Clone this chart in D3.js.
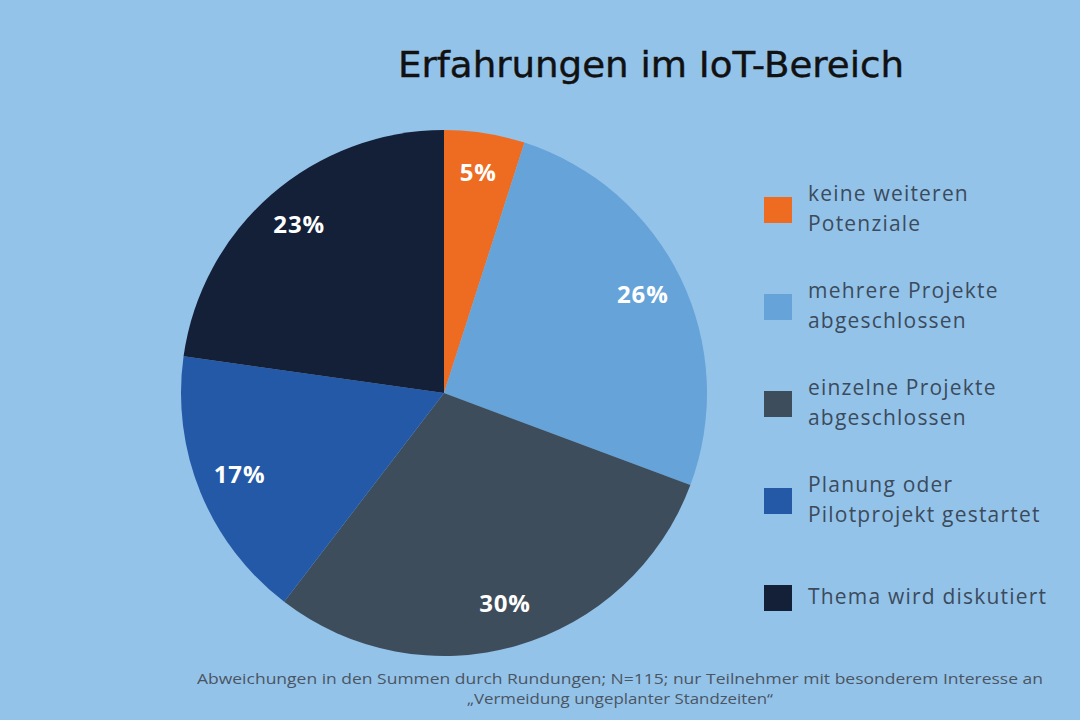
<!DOCTYPE html>
<html>
<head>
<meta charset="utf-8">
<script src="https://cdn.jsdelivr.net/npm/d3@7"></script>
<style>
  html, body { margin: 0; padding: 0; background: #94c3ea; }
</style>
</head>
<body>
<div id="chart"></div>
<script>
const categories = [
  "keine weiteren Potenziale",
  "mehrere Projekte abgeschlossen",
  "einzelne Projekte abgeschlossen",
  "Planung oder Pilotprojekt gestartet",
  "Thema wird diskutiert"
];
const legendLines = [
  ["keine weiteren", "Potenziale"],
  ["mehrere Projekte", "abgeschlossen"],
  ["einzelne Projekte", "abgeschlossen"],
  ["Planung oder", "Pilotprojekt gestartet"],
  ["Thema wird diskutiert"]
];
const values = [5, 26, 30, 17, 23];
const colors = ["#ee6c22", "#66a3d9", "#3e4d5c", "#2359a6", "#141f38"];

const title = "Erfahrungen im IoT-Bereich";
const footnote = [
  "Abweichungen in den Summen durch Rundungen; N=115; nur Teilnehmer mit besonderem Interesse an",
  "\u201EVermeidung ungeplanter Standzeiten\u201C"
];
const footWidths = [846, 306];

const width = 1080, height = 720;
const cx = 444, cy = 393, r = 263;

const svg = d3.select("#chart")
  .append("svg")
    .attr("width", width)
    .attr("height", height);

svg.append("rect")
  .attr("width", width)
  .attr("height", height)
  .attr("fill", "#94c3ea");

svg.append("text")
  .attr("x", 651)
  .attr("y", 77)
  .attr("text-anchor", "middle")
  .attr("font-family", "DejaVu Sans, Verdana, sans-serif")
  .attr("font-size", 35)
  .attr("textLength", 506)
  .attr("lengthAdjust", "spacingAndGlyphs")
  .attr("fill", "#111111")
  .attr("stroke", "#111111")
  .attr("stroke-width", 0.4)
  .text(title);

const color = d3.scaleOrdinal().domain(categories).range(colors);

const pie = d3.pie().sort(null).value((d, i) => values[i]);
const arcs = pie(categories);
const arc = d3.arc().innerRadius(0).outerRadius(r);
const labelArc = d3.arc().innerRadius(r * 0.84).outerRadius(r * 0.84);

const g = svg.append("g").attr("transform", `translate(${cx},${cy})`);

g.selectAll("path")
  .data(arcs)
  .enter()
  .append("path")
    .attr("d", arc)
    .attr("fill", d => color(d.data))
    .attr("stroke", "none");

g.selectAll("text")
  .data(arcs)
  .enter()
  .append("text")
    .attr("transform", d => `translate(${labelArc.centroid(d)})`)
    .attr("text-anchor", "middle")
    .attr("dominant-baseline", "middle")
    .attr("font-family", "Open Sans, sans-serif")
    .attr("font-weight", "bold")
    .attr("font-size", 24)
    .attr("letter-spacing", 0.8)
    .attr("fill", "#ffffff")
    .text((d, i) => values[i] + "%");

// legend
const legend = svg.append("g");
const legendY = d3.scalePoint().domain(categories).range([210, 598]);

categories.forEach((c, i) => {
  const y = legendY(c);
  const item = legend.append("g");
  item.append("rect")
    .attr("x", 764)
    .attr("y", y - 13)
    .attr("width", 28)
    .attr("height", 26)
    .attr("fill", colors[i]);
  const lines = legendLines[i];
  lines.forEach((t, j) => {
    item.append("text")
      .attr("x", 808)
      .attr("y", y + (j - (lines.length - 1) / 2) * 30)
      .attr("dominant-baseline", "middle")
      .attr("font-family", "Open Sans, sans-serif")
      .attr("font-size", 21)
      .attr("letter-spacing", 1.2)
      .attr("fill", "#3b4b5c")
      .text(t);
  });
});

svg.selectAll(".foot")
  .data(footnote)
  .enter()
  .append("text")
    .attr("class", "foot")
    .attr("x", 620)
    .attr("y", (d, i) => 680 + i * 20)
    .attr("text-anchor", "middle")
    .attr("dominant-baseline", "middle")
    .attr("font-family", "Open Sans, sans-serif")
    .attr("font-size", 15)
    .attr("textLength", (d, i) => footWidths[i])
    .attr("lengthAdjust", "spacingAndGlyphs")
    .attr("fill", "#4a5562")
    .text(d => d);
</script>
</body>
</html>
